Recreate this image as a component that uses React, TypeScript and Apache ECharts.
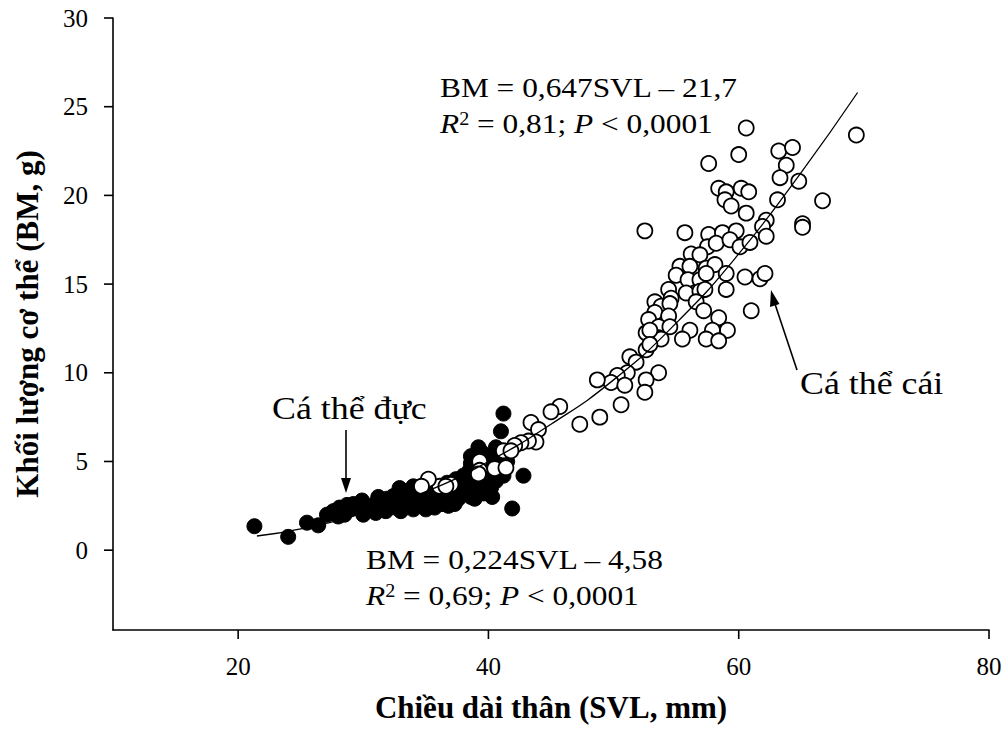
import React, { useEffect, useRef } from "react";
import * as echarts from "echarts";

const xTicks = [20, 40, 60, 80];
const yTicks = [0, 5, 10, 15, 20, 25, 30];

// Cá thể đực (males) – filled circles [SVL, BM]
const males: number[][] = [
  [21.3, 1.35], [24.0, 0.75], [25.5, 1.55], [26.4, 1.4], [27.1, 2.0], [27.6, 2.2],
  [28.1, 2.4], [28.7, 2.55], [29.2, 2.6], [29.7, 2.4], [30.3, 2.3], [30.8, 2.55],
  [31.3, 2.8], [31.0, 2.1], [31.8, 2.2], [31.9, 2.9], [32.4, 3.05], [32.6, 2.4],
  [32.2, 2.6], [32.8, 2.7], [33.0, 2.2], [33.2, 3.1], [33.4, 2.5], [33.6, 2.9],
  [33.8, 3.3], [34.0, 2.3], [34.1, 2.7], [34.3, 3.2], [34.5, 3.5], [34.6, 2.5],
  [34.8, 2.9], [35.0, 3.3], [35.2, 2.6], [35.4, 3.0], [35.5, 3.6], [35.7, 2.4],
  [35.9, 2.8], [36.0, 3.2], [36.2, 3.4], [36.3, 2.6], [36.5, 3.0], [36.7, 3.8],
  [36.9, 3.3], [37.0, 2.8], [37.2, 3.6], [37.4, 4.0], [37.5, 3.1], [37.6, 2.9],
  [37.8, 3.5], [38.0, 4.2], [38.1, 3.8], [38.3, 3.2], [38.5, 4.5], [38.6, 3.0],
  [38.8, 3.6], [39.0, 4.1], [39.1, 3.4], [39.3, 4.4], [39.5, 3.8], [39.6, 3.2],
  [39.8, 4.6], [40.0, 4.0], [40.2, 3.5], [40.4, 4.3], [40.6, 3.9], [40.8, 5.0],
  [41.0, 4.6], [41.2, 4.2], [41.2, 7.7], [41.0, 6.7], [41.5, 5.0], [42.8, 4.2],
  [41.9, 2.35], [33.0, 3.4], [34.0, 3.6], [30.0, 2.0], [31.5, 2.4], [29.0, 2.3],
  [28.5, 2.0], [32.0, 2.5], [35.0, 2.3], [36.8, 2.5], [37.3, 2.6], [38.9, 2.9],
  [40.3, 3.0], [40.0, 5.3], [39.5, 5.5], [40.6, 5.8], [38.6, 4.9], [39.9, 4.8],
  [38.6, 5.3], [39.2, 5.8], [29.9, 2.8], [31.2, 3.0], [32.9, 3.5], [28.0, 1.9],
];

// Cá thể cái (females) – open circles [SVL, BM]
const females: number[][] = [
  [69.4, 23.4], [60.6, 23.8], [60.0, 22.3], [57.6, 21.8], [63.2, 22.5], [64.3, 22.7],
  [63.8, 21.7], [63.3, 21.0], [64.8, 20.8], [66.7, 19.7], [63.1, 19.75], [58.4, 20.4],
  [59.0, 20.2], [60.2, 20.4], [60.8, 20.2], [58.9, 19.75], [59.4, 19.4], [60.6, 19.0],
  [62.2, 18.6], [61.9, 18.25], [62.2, 17.7], [65.1, 18.4], [65.1, 18.2], [52.5, 18.0],
  [55.7, 17.9], [57.6, 17.8], [58.7, 17.9], [59.8, 18.0], [57.5, 17.1], [58.2, 17.3],
  [59.3, 17.5], [60.1, 17.1], [60.9, 17.35], [56.2, 16.7], [56.9, 16.65], [55.3, 16.0],
  [56.1, 16.0], [57.4, 15.9], [58.1, 16.1], [59.0, 15.6], [55.0, 15.5], [55.95, 15.25],
  [56.9, 15.25], [57.4, 15.6], [60.5, 15.4], [61.7, 15.3], [62.1, 15.6], [59.0, 14.7],
  [54.4, 14.7], [54.6, 14.2], [55.8, 14.5], [56.9, 14.6], [57.3, 14.7], [53.3, 14.0],
  [53.8, 13.75], [54.5, 13.9], [56.6, 14.0], [61.0, 13.5], [57.2, 13.5], [58.4, 13.1],
  [59.1, 12.4], [57.9, 12.4], [53.3, 13.4], [54.4, 13.2], [52.8, 13.0], [53.6, 12.6],
  [54.5, 12.6], [52.6, 12.25], [53.6, 11.97], [56.1, 12.4], [55.5, 11.9], [53.8, 11.9],
  [57.4, 11.9], [58.4, 11.8], [52.9, 12.4], [52.6, 11.3], [51.3, 10.9], [52.9, 11.6],
  [51.8, 10.6], [51.1, 10.0], [53.6, 10.0], [50.3, 9.85], [49.8, 9.45], [50.9, 9.3],
  [52.6, 9.6], [52.5, 8.9], [48.7, 9.6], [50.6, 8.2], [48.9, 7.5], [47.3, 7.1],
  [45.7, 8.1], [45.0, 7.8], [43.4, 7.2], [44.0, 6.8], [43.8, 6.1], [43.2, 6.15],
  [42.6, 6.06], [42.1, 5.9], [41.2, 5.6], [41.8, 5.6], [40.5, 4.6], [41.4, 4.65],
  [39.3, 5.0], [39.3, 4.5], [39.2, 4.3], [36.1, 3.6], [37.0, 3.7], [35.2, 4.0],
  [34.65, 3.6], [36.6, 3.6],
];

// Fitted curve [SVL, BM]
const curve: number[][] = [
  [21.5, 0.8], [25, 1.2], [30, 2.1], [35, 3.3], [40, 5.0], [45, 7.1],
  [50, 9.6], [55, 12.8], [60, 16.7], [65, 21.3], [69.5, 25.8],
];

const X_MIN = 10;
const X_MAX = 80;
const Y_MIN = -4.5;
const Y_MAX = 30;

const SERIF = '"Liberation Serif", "Times New Roman", serif';

const GRID = { left: 113, right: 19, top: 18, bottom: 102 };
const W = 1008;
const H = 732;

export default function App() {
  const ref = useRef<HTMLDivElement>(null);
  useEffect(() => {
    const chart = echarts.init(ref.current!, null, { renderer: "svg" });
    const axisLine = { show: true, onZero: false, lineStyle: { color: "#000", width: 1.6 } };
    const SX = 1.12;
    const txt = (x: number, y: number, text: string, size: number) => ({
      type: "text",
      x,
      y,
      scaleX: SX,
      style: {
        text,
        fontFamily: SERIF,
        fontSize: size,
        fill: "#000",
        verticalAlign: "middle",
      },
      z: 100,
    });
    const richStats = {
      i: { fontStyle: "italic", fontFamily: SERIF, fontSize: 28 },
      s: { fontFamily: SERIF, fontSize: 18, padding: [0, 0, 10, 0] },
      n: { fontFamily: SERIF, fontSize: 28 },
    };
    const stats = (x: number, y: number, text: string) => ({
      type: "text",
      x,
      y,
      scaleX: SX,
      z: 100,
      style: {
        text,
        rich: richStats,
        fontFamily: SERIF,
        fontSize: 28,
        fill: "#000",
        verticalAlign: "middle",
      },
    });

    // Outward axis tick marks, positioned along the axis extents of the grid
    const gx0 = GRID.left;
    const gx1 = W - GRID.right;
    const gy0 = GRID.top;
    const gy1 = H - GRID.bottom;
    const tickStyle = { stroke: "#000", lineWidth: 1.6 };
    const ticks: any[] = [];
    xTicks.forEach((v) => {
      const px = gx0 + ((v - X_MIN) / (X_MAX - X_MIN)) * (gx1 - gx0);
      ticks.push({
        type: "line",
        z: 100,
        silent: true,
        shape: { x1: px, y1: gy1, x2: px, y2: gy1 + 9 },
        style: tickStyle,
      });
    });
    yTicks.forEach((v) => {
      const py = gy1 - ((v - Y_MIN) / (Y_MAX - Y_MIN)) * (gy1 - gy0);
      ticks.push({
        type: "line",
        z: 100,
        silent: true,
        shape: { x1: gx0 - 9, y1: py, x2: gx0, y2: py },
        style: tickStyle,
      });
    });

    chart.setOption({
      animation: false,
      grid: { ...GRID, containLabel: false },
      xAxis: {
        type: "value",
        min: X_MIN,
        max: X_MAX,
        splitLine: { show: false },
        axisLine,
        axisTick: { show: false },
        axisLabel: {
          customValues: xTicks,
          fontFamily: SERIF,
          fontSize: 25,
          color: "#000",
          margin: 24,
        },
        name: "Chiều dài thân (SVL, mm)",
        nameLocation: "middle",
        nameGap: 62,
        nameTextStyle: { fontFamily: SERIF, fontSize: 31, fontWeight: "bold", color: "#000" },
      },
      yAxis: {
        type: "value",
        min: Y_MIN,
        max: Y_MAX,
        splitLine: { show: false },
        axisLine,
        axisTick: { show: false },
        axisLabel: {
          customValues: yTicks,
          fontFamily: SERIF,
          fontSize: 25,
          color: "#000",
          margin: 25,
        },
        name: "Khối lượng cơ thể (BM, g)",
        nameLocation: "middle",
        nameGap: 70,
        nameRotate: 90,
        nameTextStyle: { fontFamily: SERIF, fontSize: 31, fontWeight: "bold", color: "#000" },
      },
      series: [
        {
          type: "scatter",
          name: "Cá thể đực",
          data: males,
          symbol: "circle",
          symbolSize: 15,
          itemStyle: { color: "#000", borderColor: "#000", borderWidth: 1, opacity: 1 },
          z: 2,
        },
        {
          type: "scatter",
          name: "Cá thể cái",
          data: females,
          symbol: "circle",
          symbolSize: 15,
          itemStyle: { color: "#fff", borderColor: "#000", borderWidth: 1.8, opacity: 1 },
          z: 3,
        },
        {
          type: "line",
          data: curve,
          smooth: true,
          showSymbol: false,
          symbol: "none",
          lineStyle: { color: "#000", width: 1.3 },
          z: 4,
        },
      ],
      graphic: [
        ...ticks,
        txt(440, 88, "BM = 0,647SVL – 21,7", 28),
        stats(440, 124, "{i|R}{s|2}{n| = 0,81; }{i|P}{n| < 0,0001}"),
        txt(366, 560, "BM = 0,224SVL – 4,58", 28),
        stats(366, 596, "{i|R}{s|2}{n| = 0,69; }{i|P}{n| < 0,0001}"),
        txt(272, 408, "Cá thể đực", 32),
        txt(800, 383, "Cá thể cái", 32),
        {
          type: "line",
          z: 100,
          shape: { x1: 346, y1: 430, x2: 346, y2: 480 },
          style: { stroke: "#000", lineWidth: 1.6 },
        },
        {
          type: "polygon",
          z: 100,
          shape: { points: [[341, 478], [351, 478], [346, 493]] },
          style: { fill: "#000" },
        },
        {
          type: "line",
          z: 100,
          shape: { x1: 797, y1: 370, x2: 775, y2: 304 },
          style: { stroke: "#000", lineWidth: 1.6 },
        },
        {
          type: "polygon",
          z: 100,
          shape: { points: [[770, 307], [779.5, 304], [771, 290]] },
          style: { fill: "#000" },
        },
      ],
    });
    return () => chart.dispose();
  }, []);
  return (
    <div
      ref={ref}
      style={{ position: "fixed", left: 0, top: 0, width: W, height: H, background: "#fff" }}
    />
  );
}
